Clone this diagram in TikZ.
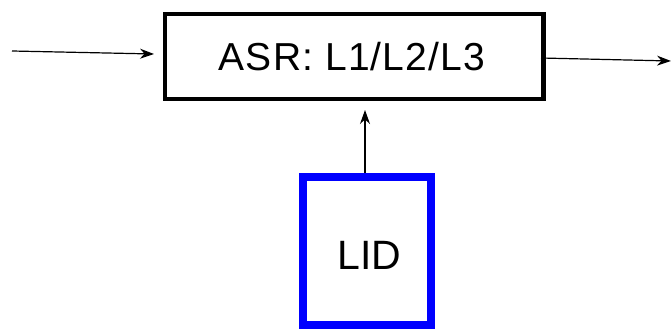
\documentclass[tikz,border=0pt]{standalone}
\usepackage{fontspec}
\setmainfont{Liberation Sans}
\usetikzlibrary{arrows.meta}
\definecolor{lidblue}{RGB}{0,0,255}
\tikzset{
  arr/.style={-{Stealth[length=14pt,width=10pt]}, line width=1.2pt, black},
  asrbox/.style={draw=black, line width=4.5pt, minimum width=378.5pt, minimum height=85pt, inner sep=0pt},
  lidbox/.style={draw=lidblue, line width=8pt, minimum width=128pt, minimum height=148pt, inner sep=0pt}
}
\begin{document}
\begin{tikzpicture}[x=1pt,y=1pt]
\useasboundingbox (0,0) rectangle (672,-329);
\node[asrbox] (asr) at (354.25,-56.5) {};
\node (asrtxt) at (352,-56.5) {\addfontfeature{LetterSpace=3}\fontsize{39}{39}\selectfont ASR: L1/L2/L3};
\node[lidbox] (lid) at (367,-251) {};
\node (lidtxt) at (369.5,-255.5) {\fontsize{41}{41}\selectfont LID};
\coordinate (inL) at (12,-51);
\coordinate (inR) at (154,-54);
\coordinate (outR) at (541,-58);
\coordinate (outE) at (671,-61);
\coordinate (upTop) at (365,-110);
\draw[arr] (inL) -- (inR);
\draw[arr] (outR) -- (outE);
\draw[arr] ([xshift=-2pt]lid.north) -- (upTop);
\end{tikzpicture}
\end{document}
